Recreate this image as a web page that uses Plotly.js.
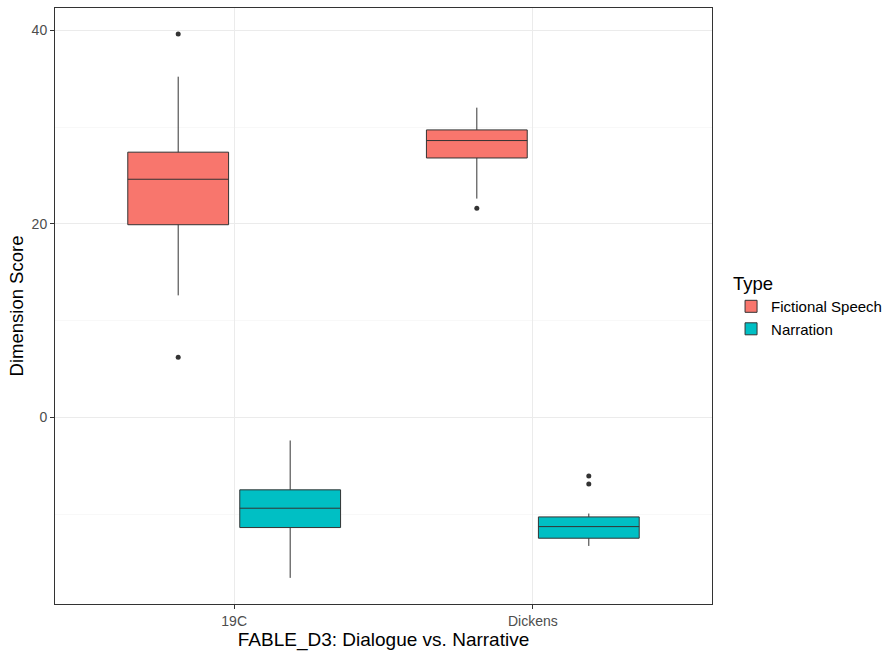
<!DOCTYPE html>
<html>
<head>
<meta charset="utf-8">
<script src="https://cdn.plot.ly/plotly-3.0.1.min.js"></script>
<style>html,body{margin:0;padding:0;background:#fff;}#chart{width:887px;height:652px;}</style>
</head>
<body>
<div id="chart"></div>
<script>
// Categories
const categories = ["19C", "Dickens"];
// Fictional Speech box statistics
const speechQ1 = [19.9, 26.8];
const speechMedian = [24.6, 28.6];
const speechQ3 = [27.4, 29.7];
const speechLower = [12.6, 22.6];
const speechUpper = [35.2, 32.0];
const speechOutliers = [[39.6, 6.2], [21.6]];
// Narration box statistics
const narrQ1 = [-11.4, -12.5];
const narrMedian = [-9.4, -11.3];
const narrQ3 = [-7.5, -10.3];
const narrLower = [-16.6, -13.3];
const narrUpper = [-2.4, -9.95];
const narrOutliers = [[], [-6.07, -6.9]];
const yTicks = [0, 20, 40];

// boxes with no outliers carry their median as a (hidden, in-fence) sample point
function samples(outliers, medians) {
  return outliers.map((o, i) => o.length ? o : [medians[i]]);
}

const common = {
  type: 'box',
  boxpoints: 'outliers',
  jitter: 0,
  pointpos: 0,
  whiskerwidth: 0,
  line: {color: '#333333', width: 1},
  hoverinfo: 'skip'
};

const traces = [
  Object.assign({}, common, {
    name: 'Fictional Speech',
    x: categories,
    y: samples(speechOutliers, speechMedian),
    q1: speechQ1, median: speechMedian, q3: speechQ3,
    lowerfence: speechLower, upperfence: speechUpper,
    fillcolor: '#F8766D',
    marker: {color: '#333333', size: 5, line: {width: 0}}
  }),
  Object.assign({}, common, {
    name: 'Narration',
    x: categories,
    y: samples(narrOutliers, narrMedian),
    q1: narrQ1, median: narrMedian, q3: narrQ3,
    lowerfence: narrLower, upperfence: narrUpper,
    fillcolor: '#00BFC4',
    marker: {color: '#333333', size: 5, line: {width: 0}}
  })
];

const layout = {
  width: 887, height: 652,
  margin: {l: 55, r: 175, t: 8, b: 48, autoexpand: false},
  paper_bgcolor: '#ffffff',
  plot_bgcolor: '#ffffff',
  font: {family: 'Liberation Sans, Arial, sans-serif', color: '#000000'},
  boxmode: 'group',
  boxgap: 0.25,
  boxgroupgap: 0.1,
  showlegend: true,
  legend: {
    x: 1.029, xanchor: 'left', y: 0.5, yanchor: 'middle',
    title: {text: 'Type', font: {size: 18.5, color: '#000'}},
    font: {size: 15, color: '#000'},
    bgcolor: 'rgba(0,0,0,0)',
    tracegroupgap: 0
  },
  xaxis: {
    type: 'category',
    range: [-0.6, 1.6],
    title: {text: 'FABLE_D3: Dialogue vs. Narrative', font: {size: 19, color: '#000'}, standoff: 4},
    tickfont: {size: 14, color: '#4d4d4d'},
    ticks: 'outside', ticklen: 4, tickcolor: '#333333',
    showgrid: true, gridcolor: '#ebebeb', gridwidth: 1,
    showline: true, linecolor: '#333333', linewidth: 1, mirror: true,
    zeroline: false
  },
  yaxis: {
    range: [-19.3, 42.3],
    tickvals: yTicks,
    title: {text: 'Dimension Score', font: {size: 18.5, color: '#000'}, standoff: 3},
    tickfont: {size: 14, color: '#4d4d4d'},
    ticks: 'outside', ticklen: 4, tickcolor: '#333333',
    showgrid: true, gridcolor: '#ebebeb', gridwidth: 1,
    minor: {dtick: 10, tick0: 0, showgrid: true, gridcolor: '#f4f4f4', gridwidth: 0.6, ticks: ''},
    showline: true, linecolor: '#333333', linewidth: 1, mirror: true,
    zeroline: false
  }
};

Plotly.newPlot('chart', traces, layout, {displayModeBar: false, staticPlot: true});
</script>
</body>
</html>
